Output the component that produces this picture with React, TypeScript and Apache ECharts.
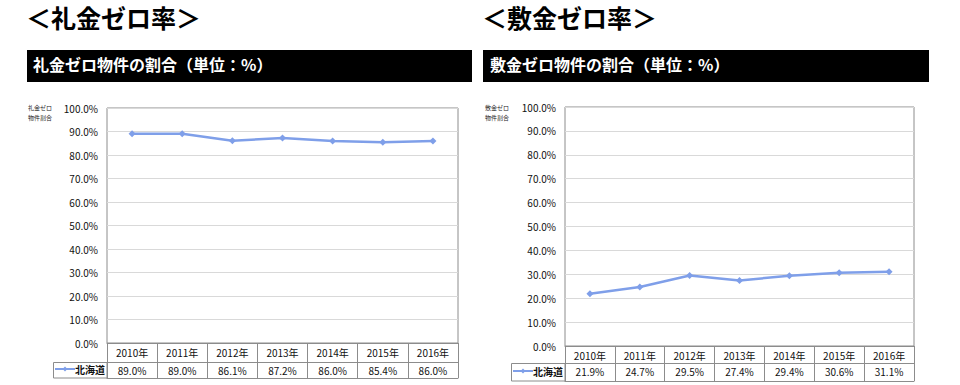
import React, { useEffect, useRef } from "react";
import * as echarts from "echarts";

const categories = ["2010年", "2011年", "2012年", "2013年", "2014年", "2015年", "2016年"];
const reikinValues = [89.0, 89.0, 86.1, 87.2, 86.0, 85.4, 86.0];
const shikikinValues = [21.9, 24.7, 29.5, 27.4, 29.4, 30.6, 31.1];
const seriesName = "北海道";
const leftTitle = "＜礼金ゼロ率＞";
const rightTitle = "＜敷金ゼロ率＞";
const leftBarTitle = "礼金ゼロ物件の割合（単位：%）";
const rightBarTitle = "敷金ゼロ物件の割合（単位：%）";
const leftAxisName = "礼金ゼロ\n物件割合";
const rightAxisName = "敷金ゼロ\n物件割合";

const FONT = "'Noto Sans CJK JP', 'Noto Sans', sans-serif";
const LINE_COLOR = "#7f9fe9";
const BORDER = "#8c8c8c";

function xAxesFor(gridIndex: number, values: number[], row1: number, row2: number) {
  return [
    {
      type: "category",
      gridIndex,
      data: categories,
      boundaryGap: true,
      axisLine: { show: true, lineStyle: { color: BORDER, width: 1 } },
      axisTick: { show: true, interval: 0, length: row2, lineStyle: { color: BORDER, width: 1 } },
      axisLabel: { show: true, interval: 0, margin: 4, fontSize: 10, color: "#111", fontFamily: FONT },
      splitLine: { show: false },
    },
    {
      type: "category",
      gridIndex,
      data: categories,
      position: "bottom",
      offset: row1,
      axisLine: { show: true, lineStyle: { color: BORDER, width: 1 } },
      axisTick: { show: false },
      axisLabel: {
        show: true,
        interval: 0,
        margin: 3,
        fontSize: 10,
        color: "#111",
        fontFamily: FONT,
        formatter: (_v: string, i: number) => values[i].toFixed(1) + "%",
      },
      splitLine: { show: false },
    },
    {
      type: "category",
      gridIndex,
      data: categories,
      position: "bottom",
      offset: row2,
      axisLine: { show: true, lineStyle: { color: BORDER, width: 1 } },
      axisTick: { show: false },
      axisLabel: { show: false },
      splitLine: { show: false },
    },
  ];
}

function yAxisFor(gridIndex: number) {
  return {
    type: "value",
    gridIndex,
    min: 0,
    max: 100,
    interval: 10,
    axisLine: { show: false },
    axisTick: { show: false },
    axisLabel: {
      margin: 9,
      fontSize: 10,
      color: "#111",
      fontFamily: FONT,
      formatter: (v: number) => v.toFixed(1) + "%",
    },
    splitLine: { show: true, lineStyle: { color: "#d9d9d9", width: 1 } },
  };
}

function seriesFor(xAxisIndex: number, yAxisIndex: number, values: number[]) {
  return {
    type: "line",
    name: seriesName,
    xAxisIndex,
    yAxisIndex,
    data: values,
    symbol: "diamond",
    symbolSize: 7,
    lineStyle: { color: LINE_COLOR, width: 2.5 },
    itemStyle: { color: LINE_COLOR },
  };
}

function legendFor(left: number, top: number) {
  return {
    left,
    top,
    itemWidth: 20,
    itemHeight: 6,
    itemGap: 0,
    padding: 0,
    selectedMode: false,
    data: [{ name: seriesName }],
    textStyle: { fontSize: 10, color: "#111", fontFamily: FONT, fontWeight: "bold", padding: [0, 0, 0, -5] },
  };
}

export default function App() {
  const ref = useRef<HTMLDivElement>(null);
  useEffect(() => {
    if (!ref.current) return;
    const chart = echarts.init(ref.current, undefined, { renderer: "svg" });
    const option: any = {
      animation: false,
      backgroundColor: "#fff",
      grid: [
        { left: 107, top: 108, width: 351, height: 235, show: true, borderColor: BORDER, borderWidth: 1, containLabel: false },
        { left: 565, top: 107, width: 349, height: 239, show: true, borderColor: BORDER, borderWidth: 1, containLabel: false },
      ],
      xAxis: [...xAxesFor(0, reikinValues, 19, 35), ...xAxesFor(1, shikikinValues, 17, 35)],
      yAxis: [yAxisFor(0), yAxisFor(1)],
      legend: [legendFor(54, 364), legendFor(512, 366)],
      graphic: [
        { type: "text", left: 26, top: 4, style: { text: leftTitle, font: `bold 25px ${FONT}`, fill: "#000" } },
        { type: "text", left: 482, top: 4, style: { text: rightTitle, font: `bold 25px ${FONT}`, fill: "#000" } },
        { type: "rect", shape: { x: 27, y: 50, width: 445, height: 32 }, style: { fill: "#000" } },
        { type: "rect", shape: { x: 483, y: 50, width: 446, height: 32 }, style: { fill: "#000" } },
        { type: "text", left: 33, top: 56, style: { text: leftBarTitle, font: `bold 16px ${FONT}`, fill: "#fff" } },
        { type: "text", left: 490, top: 56, style: { text: rightBarTitle, font: `bold 16px ${FONT}`, fill: "#fff" } },
        { type: "text", left: 28, top: 102, style: { text: leftAxisName, font: `6px ${FONT}`, fill: "#222", lineHeight: 10 } },
        { type: "text", left: 485, top: 102, style: { text: rightAxisName, font: `6px ${FONT}`, fill: "#222", lineHeight: 10 } },
        { type: "rect", shape: { x: 53.5, y: 362.5, width: 53.5, height: 15.5 }, style: { fill: "none", stroke: BORDER, lineWidth: 1 } },
        { type: "rect", shape: { x: 511.5, y: 363.5, width: 53.5, height: 17.5 }, style: { fill: "none", stroke: BORDER, lineWidth: 1 } },
      ],
      series: [seriesFor(0, 0, reikinValues), seriesFor(3, 1, shikikinValues)],
    };
    chart.setOption(option);
    return () => chart.dispose();
  }, []);
  return (
    <div
      ref={ref}
      style={{ position: "absolute", left: 0, top: 0, width: 960, height: 385 }}
    />
  );
}
